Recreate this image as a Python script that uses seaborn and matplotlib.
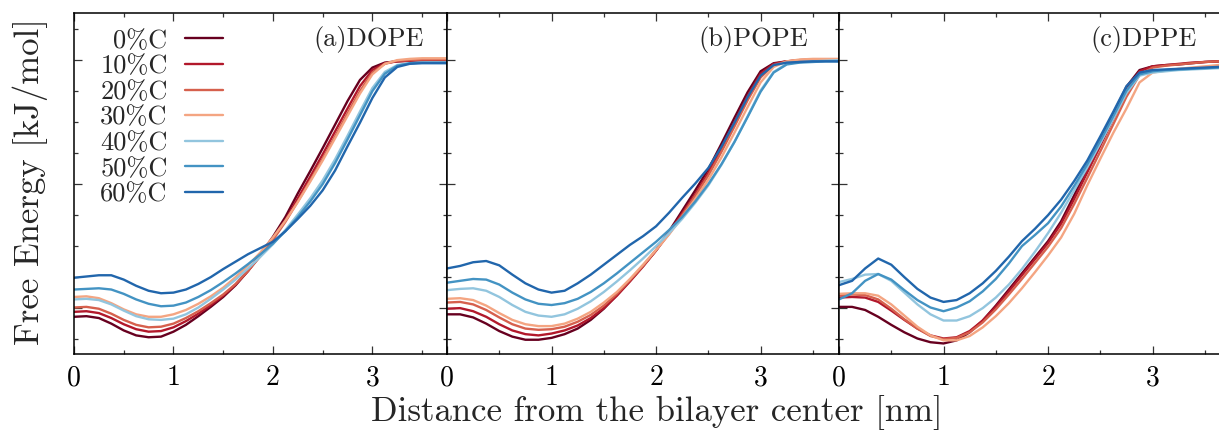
import numpy as np
import pandas as pd
import matplotlib
matplotlib.use("Agg")
import matplotlib.pyplot as plt
from matplotlib.ticker import MultipleLocator, NullFormatter, FixedLocator
import seaborn as sns

# ---------------- data ----------------
distance = [0.0, 0.125, 0.25, 0.375, 0.5, 0.625, 0.75, 0.875, 1.0, 1.125, 1.25,
            1.375, 1.5, 1.625, 1.75, 1.875, 2.0, 2.125, 2.25, 2.375, 2.5, 2.625,
            2.75, 2.875, 3.0, 3.125, 3.25, 3.375, 3.5, 3.625, 3.75]

labels = ["0%C", "10%C", "20%C", "30%C", "40%C", "50%C", "60%C"]
colors = ["#67001f", "#b2182b", "#d6604d", "#f4a582", "#92c5de", "#4393c3", "#2166ac"]
panel_titles = ["(a)DOPE", "(b)POPE", "(c)DPPE"]

dope_0 = [-41.4, -41.3, -41.6, -42.5, -43.6, -44.4, -44.7, -44.6, -43.8, -42.7, -41.3, -39.8, -38.2, -36.3, -34.0, -31.3, -28.5, -25.3, -21.5, -17.9, -14.2, -10.4, -6.6, -3.2, -1.2, -0.4, -0.2, -0.1, 0.0, 0.0, 0.0]
dope_10 = [-40.6, -40.5, -40.8, -41.6, -42.6, -43.4, -43.8, -43.7, -43.1, -42.1, -40.9, -39.5, -38.0, -36.2, -34.0, -31.5, -28.8, -25.8, -22.3, -18.8, -15.2, -11.5, -7.8, -4.2, -1.6, -0.5, -0.2, -0.1, 0.0, 0.1, 0.1]
dope_20 = [-39.9, -39.8, -40.1, -40.9, -41.9, -42.7, -43.1, -43.0, -42.5, -41.6, -40.5, -39.2, -37.8, -36.1, -34.0, -31.6, -29.0, -26.1, -22.8, -19.4, -15.9, -12.3, -8.6, -5.0, -2.0, -0.6, -0.1, 0.0, 0.1, 0.1, 0.1]
dope_30 = [-38.2, -38.1, -38.4, -39.2, -40.2, -41.0, -41.4, -41.4, -41.0, -40.3, -39.3, -38.1, -36.7, -35.0, -33.1, -31.0, -28.6, -25.9, -22.9, -19.6, -16.2, -12.6, -9.0, -5.4, -2.3, -0.6, 0.0, 0.2, 0.3, 0.3, 0.3]
dope_40 = [-38.6, -38.5, -38.7, -39.4, -40.4, -41.3, -41.8, -41.9, -41.7, -41.0, -39.9, -38.5, -37.0, -35.4, -33.6, -31.7, -29.7, -27.4, -24.9, -22.3, -19.4, -16.0, -12.2, -8.3, -4.5, -1.9, -0.8, -0.5, -0.4, -0.4, -0.4]
dope_50 = [-37.0, -36.9, -36.8, -37.0, -37.7, -38.6, -39.3, -39.7, -39.6, -39.1, -38.2, -37.1, -35.8, -34.4, -32.9, -31.3, -29.6, -27.6, -25.3, -22.8, -20.0, -16.6, -12.8, -8.9, -5.0, -2.2, -0.9, -0.5, -0.4, -0.4, -0.4]
dope_60 = [-35.1, -34.9, -34.7, -34.7, -35.4, -36.4, -37.2, -37.6, -37.5, -37.0, -36.1, -35.0, -33.7, -32.5, -31.3, -30.3, -29.3, -27.6, -25.6, -23.5, -21.0, -17.8, -13.9, -10.1, -6.1, -2.8, -1.1, -0.6, -0.5, -0.5, -0.5]

pope_0 = [-41.0, -41.0, -41.5, -42.5, -43.7, -44.6, -45.1, -45.1, -44.8, -44.2, -43.3, -41.9, -40.1, -37.9, -35.6, -33.2, -30.7, -27.6, -24.3, -21.0, -17.6, -13.5, -9.3, -5.2, -1.8, -0.5, -0.2, -0.1, 0.0, 0.0, 0.1]
pope_10 = [-40.1, -40.0, -40.5, -41.4, -42.6, -43.6, -44.2, -44.4, -44.1, -43.6, -42.8, -41.6, -40.0, -38.0, -35.7, -33.3, -30.7, -27.8, -24.7, -21.6, -18.2, -14.2, -10.0, -5.8, -2.2, -0.6, -0.2, 0.0, 0.1, 0.1, 0.1]
pope_20 = [-39.1, -39.0, -39.4, -40.3, -41.5, -42.6, -43.3, -43.5, -43.4, -43.0, -42.2, -41.1, -39.6, -37.7, -35.5, -33.2, -30.7, -28.0, -25.0, -21.9, -18.6, -14.8, -10.7, -6.5, -2.8, -0.8, -0.2, 0.0, 0.1, 0.1, 0.1]
pope_30 = [-38.5, -38.4, -38.7, -39.6, -40.8, -41.9, -42.6, -42.9, -42.9, -42.5, -41.7, -40.6, -39.1, -37.4, -35.3, -33.0, -30.6, -28.1, -25.3, -22.4, -19.3, -15.7, -11.7, -7.6, -3.6, -1.1, -0.2, 0.1, 0.2, 0.2, 0.2]
pope_40 = [-37.1, -36.9, -36.8, -37.2, -38.2, -39.5, -40.6, -41.2, -41.4, -41.0, -40.1, -38.9, -37.4, -35.7, -33.9, -32.0, -30.0, -27.9, -25.6, -23.0, -20.2, -16.9, -13.2, -9.1, -4.9, -1.9, -0.6, -0.3, -0.2, -0.1, 0.0]
pope_50 = [-35.9, -35.6, -35.3, -35.4, -36.2, -37.5, -38.6, -39.3, -39.5, -39.2, -38.5, -37.4, -36.0, -34.4, -32.7, -31.0, -29.3, -27.4, -25.3, -22.8, -20.0, -16.8, -13.2, -9.2, -5.1, -2.0, -0.7, -0.4, -0.3, -0.2, -0.2]
pope_60 = [-33.6, -33.2, -32.6, -32.4, -33.1, -34.6, -36.0, -37.0, -37.5, -37.2, -36.0, -34.6, -33.0, -31.4, -29.8, -28.4, -26.8, -24.6, -22.2, -19.9, -17.4, -14.0, -10.1, -6.0, -2.5, -0.8, -0.4, -0.3, -0.2, -0.2, -0.2]

dppe_0 = [-39.8, -39.8, -40.3, -41.4, -42.7, -43.9, -44.9, -45.5, -45.7, -45.2, -43.9, -42.0, -39.6, -37.0, -34.4, -31.8, -29.2, -26.0, -21.8, -17.4, -13.0, -8.6, -4.3, -1.6, -1.0, -0.8, -0.7, -0.5, -0.3, -0.2, -0.1]
dppe_10 = [-38.3, -38.2, -38.3, -39.0, -40.4, -41.9, -43.3, -44.4, -44.9, -44.7, -43.7, -42.0, -39.8, -37.3, -34.7, -32.1, -29.5, -26.4, -22.4, -18.1, -13.8, -9.4, -5.0, -1.8, -1.0, -0.8, -0.6, -0.4, -0.3, -0.2, -0.1]
dppe_20 = [-37.9, -37.8, -37.9, -38.6, -40.1, -41.8, -43.3, -44.5, -45.0, -44.8, -43.9, -42.3, -40.2, -37.8, -35.3, -32.7, -30.1, -27.1, -23.2, -19.0, -14.7, -10.3, -5.9, -2.4, -1.2, -0.9, -0.7, -0.5, -0.3, -0.2, -0.1]
dppe_30 = [-37.7, -37.6, -37.6, -38.0, -39.4, -41.2, -43.0, -44.4, -45.2, -45.2, -44.5, -43.1, -41.3, -39.2, -36.8, -34.2, -31.5, -28.6, -24.8, -20.2, -15.9, -11.7, -7.8, -3.6, -2.0, -1.7, -1.4, -1.2, -1.0, -0.8, -0.6]
dppe_40 = [-35.8, -35.3, -34.6, -34.5, -35.6, -37.5, -39.4, -41.0, -42.0, -42.0, -41.3, -40.0, -38.3, -36.2, -33.7, -30.9, -27.9, -24.6, -21.0, -17.3, -13.4, -9.4, -5.3, -2.5, -2.0, -1.8, -1.6, -1.5, -1.4, -1.3, -1.2]
dppe_50 = [-38.6, -37.6, -35.6, -34.5, -35.4, -37.1, -38.7, -39.9, -40.5, -39.9, -38.9, -37.3, -35.3, -32.8, -30.0, -28.2, -26.3, -23.6, -20.3, -16.8, -13.0, -9.0, -4.9, -2.3, -1.8, -1.6, -1.5, -1.4, -1.3, -1.2, -1.1]
dppe_60 = [-36.3, -35.6, -33.6, -32.0, -33.0, -35.0, -36.9, -38.3, -39.0, -38.7, -37.6, -36.0, -34.0, -31.7, -29.2, -27.2, -25.0, -22.5, -19.5, -16.2, -12.3, -8.3, -4.2, -2.0, -1.6, -1.5, -1.4, -1.3, -1.2, -1.1, -1.0]

panels = [
    [dope_0, dope_10, dope_20, dope_30, dope_40, dope_50, dope_60],
    [pope_0, pope_10, pope_20, pope_30, pope_40, pope_50, pope_60],
    [dppe_0, dppe_10, dppe_20, dppe_30, dppe_40, dppe_50, dppe_60],
]

# ---------------- style ----------------
sns.set_theme(style="ticks")
plt.rcParams["font.family"] = ["cmr10", "DejaVu Serif"]
plt.rcParams["mathtext.fontset"] = "cm"
plt.rcParams["axes.formatter.use_mathtext"] = True
plt.rcParams["axes.unicode_minus"] = False

W, H = 1219, 437
fig = plt.figure(figsize=(W / 100, H / 100), dpi=100)
bottom = 83 / H
height = 341 / H
rects = [
    [74 / W, bottom, 373 / W, height],
    [447 / W, bottom, 392 / W, height],
    [839 / W, bottom, 392 / W, height],
]
label_x = [0.938, 0.921, 0.913]

for i, rect in enumerate(rects):
    ax = fig.add_axes(rect)
    series = panels[i]
    df = pd.concat([
        pd.DataFrame({"distance": distance, "energy": vals, "content": lab})
        for vals, lab in zip(series, labels)
    ], ignore_index=True)
    sns.lineplot(data=df, x="distance", y="energy", hue="content",
                 hue_order=labels, palette=colors, estimator=None, sort=False,
                 linewidth=1.7, ax=ax, legend=(i == 0))
    ax.set_xlim(0, 3.75)
    ax.set_ylim(-47.4, 7.6)
    ax.xaxis.set_major_locator(FixedLocator([0, 1, 2, 3]))
    ax.xaxis.set_minor_locator(MultipleLocator(0.5))
    ax.yaxis.set_major_locator(MultipleLocator(20))
    ax.yaxis.set_minor_locator(MultipleLocator(5))
    ax.yaxis.set_major_formatter(NullFormatter())
    ax.set_xticklabels(["0", "1", "2", "3"])
    ax.tick_params(which="both", direction="in", top=True, right=True,
                   bottom=True, left=True, colors="#333333", labelcolor="black")
    ax.tick_params(which="major", length=6, width=0.9, labelsize=20, pad=8)
    ax.tick_params(which="minor", length=3, width=0.9)
    for s in ax.spines.values():
        s.set_linewidth(1.1)
        s.set_color("black")
    ax.set_xlabel("")
    ax.set_ylabel("")
    ax.text(label_x[i], 0.921, panel_titles[i], transform=ax.transAxes,
            ha="right", va="center", fontsize=19)
    if i == 0:
        handles, labs = ax.get_legend_handles_labels()
        ax.legend(handles, labs, loc="upper right",
                  bbox_to_anchor=((223 - 74) / 373, (354 - 29) / 341),
                  markerfirst=False, frameon=False, fontsize=19,
                  handlelength=1.45, handletextpad=0.65, labelspacing=0.07,
                  borderpad=0, borderaxespad=0)

fig.text(0.025, 0.585, "Free Energy [kJ/mol]", rotation=90, ha="center",
         va="center", fontsize=25)
fig.text(0.539, 0.057, "Distance from the bilayer center [nm]", ha="center",
         va="center", fontsize=25)

fig.savefig("out.png", dpi=100)
